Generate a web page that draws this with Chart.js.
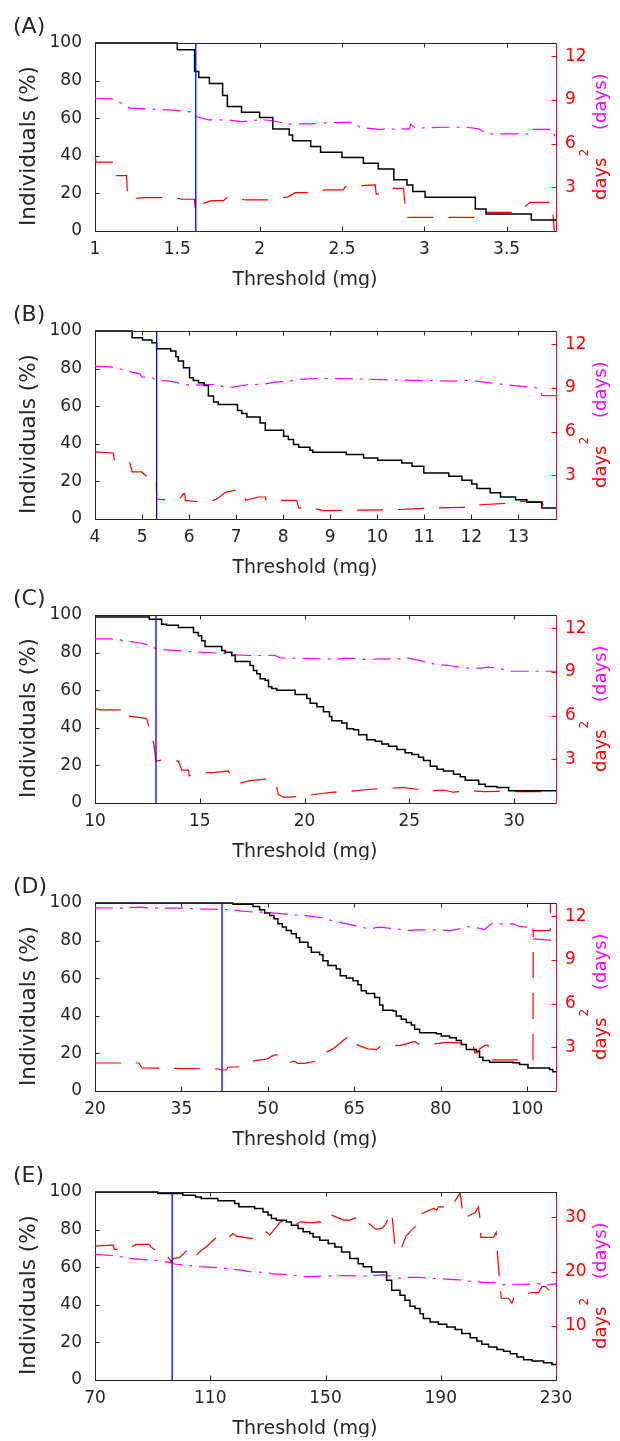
<!DOCTYPE html>
<html>
<head>
<meta charset="utf-8">
<script src="https://cdn.jsdelivr.net/npm/chart.js@4.4.1/dist/chart.umd.min.js"></script>
<style>
  html, body { margin: 0; padding: 0; background: #fff; }
  #wrap { position: relative; width: 620px; height: 1441px; }
  #wrap canvas { position: absolute; left: 0; }
</style>
</head>
<body>
<div id="wrap">
  <canvas id="pA" width="620" height="288" style="top:0px"></canvas>
  <canvas id="pB" width="620" height="288" style="top:288px"></canvas>
  <canvas id="pC" width="620" height="288" style="top:572px"></canvas>
  <canvas id="pD" width="620" height="288" style="top:860px"></canvas>
  <canvas id="pE" width="620" height="288" style="top:1149px"></canvas>
</div>
<script>
// ---- shared axis ticks ----
const pctTicks = [0, 20, 40, 60, 80, 100];
const daysTicks = [3, 6, 9, 12];
const daysTicksE = [10, 20, 30];

// ---- panel A ----
const A_xTicks = [1, 1.5, 2, 2.5, 3, 3.5];
const A_xLabels = ['1', '1.5', '2', '2.5', '3', '3.5'];
const A_cut = 1.612;
const A_indX = [1.0, 1.50, 1.605, 1.63, 1.695, 1.775, 1.804, 1.89, 2.0, 2.08, 2.18, 2.20, 2.31, 2.37, 2.50, 2.63, 2.72, 2.815, 2.895, 2.93, 3.005, 3.31, 3.375, 3.65, 3.8];
const A_indPct = [100, 96.4, 84.9, 81.7, 78.5, 72.1, 66.2, 63.2, 60.4, 54.3, 51.1, 48.0, 44.9, 41.9, 39.1, 36.1, 33.0, 27.2, 24.5, 21.0, 17.9, 11.7, 9.1, 5.9, 5.9];
const A_varX = [1.000, 1.006, 1.111, 1.122, 1.192, 1.197, 1.209, 1.294, 1.486, 1.527, 1.604, 1.610, 1.658, 1.709, 1.780, 1.804, 1.861, 1.912, 2.074, 2.175, 2.216, 2.307, 2.398, 2.509, 2.520, 2.702, 2.708, 2.732, 2.803, 2.874, 2.890, 3.300, 3.310, 3.563, 3.644, 3.776, 3.790];
const A_var = [5.34, 4.72, 4.72, 3.80, 3.80, 2.59, 2.20, 2.29, 2.29, 2.18, 2.18, 1.33, 1.90, 2.08, 2.08, 2.31, 2.29, 2.13, 2.13, 2.36, 2.63, 2.63, 2.82, 2.82, 3.05, 3.16, 2.52, 2.59, 2.93, 2.93, 0.94, 0.94, 1.28, 1.28, 1.97, 1.97, 0];
const A_meanX = [1.000, 1.101, 1.162, 1.213, 1.355, 1.456, 1.557, 1.602, 1.614, 1.689, 1.800, 1.891, 2.013, 2.074, 2.165, 2.307, 2.449, 2.570, 2.611, 2.722, 2.884, 2.910, 2.919, 2.945, 3.117, 3.259, 3.330, 3.387, 3.640, 3.654, 3.782, 3.796];
const A_mean = [9.11, 9.07, 8.77, 8.43, 8.36, 8.31, 8.20, 8.15, 7.85, 7.63, 7.63, 7.51, 7.63, 7.58, 7.35, 7.35, 7.44, 7.47, 7.10, 6.98, 7.01, 7.01, 7.33, 7.05, 7.12, 7.12, 7.01, 6.66, 6.66, 6.98, 6.98, 6.25];

// ---- panel B ----
const B_xTicks = [4, 5, 6, 7, 8, 9, 10, 11, 12, 13];
const B_xLabels = ['4', '5', '6', '7', '8', '9', '10', '11', '12', '13'];
const B_cut = 5.31;
const B_indX = [4.0, 4.79, 5.01, 5.21, 5.31, 5.61, 5.72, 5.77, 5.88, 6.01, 6.09, 6.20, 6.32, 6.41, 6.52, 6.62, 7.03, 7.12, 7.23, 7.51, 7.62, 8.01, 8.11, 8.22, 8.33, 8.57, 8.63, 9.34, 9.71, 10.01, 10.52, 10.74, 10.99, 11.52, 11.80, 12.01, 12.12, 12.40, 12.62, 12.94, 13.18, 13.50, 13.8];
const B_indPct = [100, 96.4, 95.2, 93.8, 90.6, 89.3, 86.3, 84.0, 80.5, 75.1, 73.7, 72.5, 71.0, 65.4, 62.2, 60.9, 57.7, 56.1, 54.3, 51.1, 47.2, 44.0, 42.3, 39.6, 38.2, 36.6, 35.5, 34.3, 32.5, 31.3, 29.8, 28.1, 24.5, 22.7, 20.6, 18.6, 16.2, 13.9, 11.7, 10.3, 8.9, 5.9, 5.9];
const B_varX = [4.00, 4.39, 4.41, 4.66, 4.74, 4.79, 4.99, 5.10, 5.30, 5.31, 5.60, 5.74, 5.82, 5.88, 5.91, 5.92, 6.22, 6.48, 6.62, 6.77, 6.87, 7.05, 7.16, 7.20, 7.48, 7.62, 7.64, 8.29, 8.33, 8.61, 8.86, 9.50, 10.35, 11.27, 11.77, 12.09, 12.19, 12.90, 12.97, 13.50, 13.52, 13.80];
const B_var = [4.60, 4.53, 4.08, 3.85, 3.89, 3.23, 3.23, 2.93, 2.93, 1.37, 1.28, 1.44, 1.47, 1.74, 1.74, 1.28, 1.17, 1.21, 1.44, 1.83, 1.90, 2.02, 1.85, 1.28, 1.51, 1.51, 1.28, 1.28, 0.76, 0.76, 0.57, 0.60, 0.64, 0.76, 0.80, 0.80, 0.98, 1.10, 1.21, 1.19, 0.98, 0.98];
const B_meanX = [4.00, 4.39, 4.57, 4.78, 4.96, 4.99, 5.21, 5.30, 5.60, 5.70, 5.91, 6.09, 6.23, 6.62, 6.73, 6.94, 7.23, 7.58, 7.83, 8.15, 8.33, 8.72, 9.21, 10.06, 10.91, 11.66, 11.80, 12.12, 12.40, 12.69, 13.18, 13.43, 13.50, 13.80];
const B_mean = [10.49, 10.42, 10.26, 10.08, 9.96, 9.75, 9.71, 9.53, 9.46, 9.39, 9.23, 9.18, 9.21, 9.23, 9.07, 9.05, 9.21, 9.25, 9.39, 9.46, 9.57, 9.64, 9.64, 9.57, 9.50, 9.46, 9.53, 9.46, 9.34, 9.23, 9.07, 8.98, 8.47, 8.47];

// ---- panel C ----
const C_xTicks = [10, 15, 20, 25, 30];
const C_xLabels = ['10', '15', '20', '25', '30'];
const C_cut = 12.91;
const C_indX = [10, 12.59, 13.18, 13.42, 13.98, 14.70, 14.93, 15.09, 15.25, 16.05, 16.21, 16.53, 16.69, 17.40, 17.56, 17.72, 17.88, 18.12, 18.28, 18.44, 18.68, 19.55, 20.11, 20.27, 20.59, 20.90, 21.19, 21.30, 21.78, 22.02, 22.34, 22.58, 22.97, 23.37, 23.69, 24.01, 24.41, 24.80, 25.12, 25.44, 25.68, 26.00, 26.32, 26.63, 27.11, 27.43, 27.67, 28.31, 28.62, 29.18, 29.74, 32];
const C_indPct = [98.9, 97.7, 95.1, 94.6, 93.3, 90.7, 88.9, 86.3, 83.3, 81.1, 80.2, 78.4, 75.3, 73.2, 70.5, 68.8, 66.1, 65.3, 61.8, 60.9, 60.0, 57.7, 55.6, 53.0, 51.2, 48.6, 46.0, 43.7, 42.5, 39.5, 38.9, 36.3, 33.7, 32.8, 31.4, 30.2, 28.4, 26.7, 25.8, 24.4, 22.6, 19.6, 17.9, 17.0, 15.3, 13.9, 12.1, 10.0, 8.8, 8.2, 6.5, 6.5];
const C_varX = [10.00, 10.24, 11.19, 11.30, 11.40, 11.75, 12.31, 12.47, 12.59, 12.62, 12.80, 12.91, 13.18, 13.98, 14.14, 14.46, 14.50, 15.01, 15.65, 16.37, 16.45, 16.92, 17.40, 18.12, 18.40, 18.64, 18.75, 18.99, 19.31, 20.11, 20.90, 21.38, 22.10, 23.29, 24.17, 24.64, 25.28, 26.08, 26.63, 27.11, 27.91, 28.55, 29.18, 29.90, 32.00];
const C_var = [6.50, 6.39, 6.39, 6.50, 5.94, 5.94, 5.83, 5.79, 5.15, 4.80, 4.13, 2.88, 2.95, 2.88, 2.25, 2.25, 1.87, 2.09, 2.09, 2.21, 1.87, 1.37, 1.53, 1.64, 1.64, 1.35, 0.58, 0.40, 0.40, 0.51, 0.67, 0.74, 0.80, 0.96, 1.01, 1.07, 0.96, 0.85, 0.89, 0.74, 0.85, 0.78, 0.80, 0.78, 0.78];
const C_meanX = [10, 11.03, 11.43, 11.99, 12.55, 12.87, 13.26, 13.90, 14.86, 15.57, 16.45, 16.77, 17.32, 18.60, 18.83, 19.31, 21.06, 21.46, 22.02, 22.97, 23.77, 24.80, 24.88, 25.84, 26.32, 26.79, 27.75, 28.47, 28.78, 29.34, 29.74, 32];
const C_mean = [11.26, 11.26, 11.10, 11.03, 10.85, 10.62, 10.53, 10.46, 10.35, 10.31, 10.24, 10.17, 10.12, 10.12, 9.96, 9.94, 9.89, 9.85, 9.94, 9.85, 9.89, 9.89, 9.96, 9.67, 9.49, 9.45, 9.26, 9.26, 9.33, 9.22, 9.04, 9.04];

// ---- panel D ----
const D_xTicks = [20, 35, 50, 65, 80, 95];
const D_xLabels = ['20', '35', '50', '65', '80', '100'];
const D_cut = 42.04;
const D_indX = [20, 43.94, 47.41, 48.57, 49.44, 50.31, 51.06, 51.75, 52.50, 53.20, 54.07, 54.93, 55.51, 56.96, 57.54, 58.98, 59.56, 60.43, 61.87, 62.57, 63.61, 64.77, 65.63, 66.21, 67.08, 68.53, 69.39, 69.97, 71.71, 72.28, 73.15, 74.02, 74.89, 75.47, 76.33, 79.23, 80.09, 81.54, 82.70, 83.56, 84.43, 86.16, 86.74, 87.32, 88.48, 92.53, 93.68, 95.13, 98.89, 99.46, 100];
const D_indPct = [100, 99.3, 98.2, 96.4, 94.7, 93.4, 91.6, 88.9, 87.2, 85.4, 83.6, 81.5, 79.1, 76.5, 73.8, 72.5, 69.3, 66.7, 64.9, 61.3, 60.1, 58.6, 56.5, 53.3, 51.9, 49.7, 45.8, 43.0, 42.6, 39.9, 38.1, 36.4, 35.1, 32.8, 31.0, 30.5, 29.2, 28.3, 26.9, 24.8, 22.1, 21.2, 18.0, 16.2, 15.3, 15.0, 14.1, 12.3, 11.4, 10.2, 10.2];
const D_varX = [20, 27.63, 28.15, 41.52, 41.92, 42.79, 43.08, 45.39, 47.70, 50.02, 50.60, 51.46, 53.00, 53.66, 54.64, 55.22, 56.38, 58.69, 59.27, 59.56, 60.43, 61.30, 63.15, 63.90, 64.77, 65.06, 67.37, 68.81, 69.68, 70.43, 72.86, 74.60, 75.47, 76.04, 78.94, 80.96, 83.27, 85.59, 85.88, 86.45, 86.74, 87.61, 88.19, 88.48, 96.00, 96.05, 99.00, 99.06];
const D_var = [1.92, 1.92, 1.58, 1.51, 1.44, 1.44, 1.63, 1.67, 2.08, 2.20, 2.38, 2.50, 2.30, 1.97, 2.04, 1.90, 1.90, 2.08, 2.36, 2.54, 2.72, 2.89, 3.50, 3.69, 3.73, 3.23, 2.89, 2.84, 3.11, 3.16, 3.11, 3.30, 3.41, 3.23, 3.23, 3.34, 3.30, 3.23, 2.61, 2.61, 2.89, 3.11, 3.16, 2.13, 2.13, 11.01, 11.01, 14];
const D_meanX = [20, 24.86, 27.63, 29.77, 34.98, 37.58, 41.05, 43.94, 45.68, 47.70, 49.44, 52.62, 53.78, 56.67, 59.56, 61.01, 63.03, 65.92, 67.37, 69.39, 72.28, 74.31, 76.04, 79.51, 81.54, 83.27, 84.43, 86.16, 87.61, 88.77, 92.53, 93.68, 95.13, 96.00, 96.11, 98.31, 99.18, 99.50];
const D_mean = [12.57, 12.55, 12.62, 12.55, 12.55, 12.50, 12.46, 12.43, 12.34, 12.27, 12.27, 12.16, 12.11, 12.04, 11.88, 11.70, 11.52, 11.29, 11.13, 11.24, 11.13, 11.01, 11.06, 11.06, 11.01, 11.13, 11.29, 11.20, 11.08, 11.47, 11.47, 11.29, 11.24, 11.24, 10.44, 10.37, 10.33, 10.21];

// ---- panel E ----
const E_xTicks = [70, 110, 150, 190, 230];
const E_xLabels = ['70', '110', '150', '190', '230'];
const E_cut = 96.78;
const E_indX = [70, 91.80, 100.49, 104.90, 106.87, 112.67, 118.46, 119.97, 125.42, 128.32, 130.06, 131.22, 132.96, 136.43, 138.17, 140.49, 142.23, 144.55, 145.71, 148.03, 150.93, 153.25, 155.57, 158.46, 161.36, 163.10, 166.00, 171.22, 172.96, 175.86, 177.59, 179.33, 181.07, 182.81, 183.97, 186.29, 189.19, 192.09, 194.99, 197.30, 200.20, 202.52, 204.26, 206.58, 209.48, 211.80, 214.12, 216.43, 218.75, 221.65, 225.71, 228.61, 230];
const E_indPct = [100, 99.2, 98.3, 97.4, 96.5, 95.3, 93.9, 92.1, 91.2, 89.4, 87.7, 85.9, 85.0, 84.1, 82.3, 80.6, 78.8, 77.9, 76.1, 74.4, 72.6, 70.8, 68.1, 64.6, 61.9, 60.2, 57.5, 53.1, 47.7, 45.1, 42.4, 39.2, 38.0, 35.3, 32.7, 30.9, 29.6, 28.2, 26.8, 24.7, 22.5, 20.8, 19.0, 17.6, 16.2, 15.3, 14.0, 12.2, 10.8, 10.1, 9.2, 8.2, 8.2];
const E_varX = [70, 75.57, 76.38, 76.72, 77.88, 80.00, 82.52, 84.26, 88.90, 89.25, 93.30, 95.28, 96.43, 97.25, 99.33, 102.58, 103.97, 104.90, 106.29, 108.61, 112.67, 113.25, 115.80, 116.72, 117.88, 119.04, 124.03, 127.16, 128.90, 129.48, 130.64, 134.35, 136.43, 138.17, 139.33, 141.30, 145.48, 147.45, 149.19, 150.35, 151.28, 156.38, 158.46, 160.78, 162.52, 163.68, 167.51, 169.48, 170.64, 172.38, 172.96, 173.54, 174.12, 174.70, 175.86, 177.94, 179.91, 181.65, 182.23, 187.45, 188.61, 189.19, 190.93, 192.67, 193.48, 196.72, 197.88, 200.78, 201.94, 203.10, 203.68, 203.91, 208.32, 209.25, 209.71, 210.41, 211.00, 213.54, 214.70, 215.28, 221.30, 223.97, 225.13, 226.29, 227.45, 228.03, 230];
const E_var = [24.72, 24.91, 24.91, 24.11, 24.11, 24.11, 24.48, 25.03, 25.03, 24.60, 23.07, 22.76, 21.84, 22.45, 22.58, 24.29, 23.87, 22.88, 23.68, 24.60, 26.56, 26.75, 26.75, 26.44, 27.06, 26.56, 26.13, 26.13, 27.06, 27.36, 26.75, 29.20, 29.51, 29.20, 28.59, 29.20, 29.02, 29.20, 29.02, 30.12, 30.61, 29.51, 29.51, 30.00, 30.12, 29.51, 27.79, 27.98, 28.59, 30.43, 31.04, 27.98, 24.60, 23.99, 23.68, 26.56, 27.67, 28.59, 30.43, 31.66, 31.35, 31.96, 31.96, 32.27, 31.84, 34.54, 29.82, 30.61, 30.91, 31.96, 29.51, 26.32, 26.32, 27.24, 23.07, 18.47, 15.09, 15.09, 14.17, 15.09, 16.13, 16.13, 17.24, 17.24, 16.63, 16.32, 16.30];
const E_meanX = [70, 77.30, 81.94, 88.90, 92.96, 96.43, 97.59, 102.81, 106.29, 110.93, 117.30, 120.20, 123.68, 129.48, 131.80, 135.28, 141.07, 143.39, 150.35, 156.14, 164.26, 170.06, 172.38, 176.43, 178.75, 182.23, 186.29, 193.25, 196.72, 199.04, 206.00, 208.32, 211.22, 215.28, 223.97, 227.45, 230];
const E_mean = [23.19, 22.94, 22.45, 22.15, 21.96, 21.66, 21.41, 21.10, 20.92, 20.80, 20.49, 20.31, 20.00, 19.82, 19.57, 19.51, 19.20, 19.08, 19.20, 19.26, 19.20, 19.39, 19.20, 18.71, 18.96, 18.96, 18.77, 18.59, 18.47, 18.28, 17.98, 17.98, 17.55, 17.67, 17.73, 17.55, 17.73];

const panels = [
  { id: 'pA', label: '(A)', xMin: 1, xMax: 3.8, xTicks: A_xTicks, xLabels: A_xLabels, rMax: 12.9, rTicks: daysTicks, cut: A_cut, indX: A_indX, ind: A_indPct, varX: A_varX, vari: A_var, meanX: A_meanX, mean: A_mean },
  { id: 'pB', label: '(B)', xMin: 4, xMax: 13.8, xTicks: B_xTicks, xLabels: B_xLabels, rMax: 12.9, rTicks: daysTicks, cut: B_cut, indX: B_indX, ind: B_indPct, varX: B_varX, vari: B_var, meanX: B_meanX, mean: B_mean },
  { id: 'pC', label: '(C)', xMin: 10, xMax: 32, xTicks: C_xTicks, xLabels: C_xLabels, rMax: 12.9, rTicks: daysTicks, cut: C_cut, indX: C_indX, ind: C_indPct, varX: C_varX, vari: C_var, meanX: C_meanX, mean: C_mean },
  { id: 'pD', label: '(D)', xMin: 20, xMax: 100, xTicks: D_xTicks, xLabels: D_xLabels, rMax: 12.9, rTicks: daysTicks, cut: D_cut, indX: D_indX, ind: D_indPct, varX: D_varX, vari: D_var, meanX: D_meanX, mean: D_mean },
  { id: 'pE', label: '(E)', xMin: 70, xMax: 230, xTicks: E_xTicks, xLabels: E_xLabels, rMax: 34.7, rTicks: daysTicksE, cut: E_cut, indX: E_indX, ind: E_indPct, varX: E_varX, vari: E_var, meanX: E_meanX, mean: E_mean },
];

const INK = '#262626';
const RED = '#ff0000';
const MAGENTA = '#ff00ff';
const FONT = '"DejaVu Sans", sans-serif';
Chart.defaults.font.family = FONT;

const pts = (xs, ys) => xs.map((x, i) => ({ x: x, y: ys[i] }));

// top frame line + inward tick marks (matlab style)
const frameTicks = {
  id: 'frameTicks',
  afterDraw(chart) {
    const { ctx, chartArea: a, scales } = chart;
    const len = 4.5;
    ctx.save();
    ctx.lineWidth = 1;
    ctx.strokeStyle = INK;
    ctx.beginPath();
    const top = Math.round(a.top) + 0.5;
    ctx.moveTo(a.left, top);
    ctx.lineTo(a.right, top);
    scales.x.ticks.forEach(t => {
      const px = Math.round(scales.x.getPixelForValue(t.value)) + 0.5;
      ctx.moveTo(px, a.bottom);
      ctx.lineTo(px, a.bottom - len);
      ctx.moveTo(px, a.top);
      ctx.lineTo(px, a.top + len);
    });
    scales.y.ticks.forEach(t => {
      const py = Math.round(scales.y.getPixelForValue(t.value)) + 0.5;
      ctx.moveTo(a.left, py);
      ctx.lineTo(a.left + len, py);
    });
    ctx.stroke();
    ctx.strokeStyle = RED;
    ctx.beginPath();
    scales.y2.ticks.forEach(t => {
      const py = Math.round(scales.y2.getPixelForValue(t.value)) + 0.5;
      ctx.moveTo(a.right, py);
      ctx.lineTo(a.right - len, py);
    });
    ctx.stroke();
    ctx.restore();
  }
};

// panel letter and axis titles
const panelText = {
  id: 'panelText',
  afterDraw(chart, args, opts) {
    const ctx = chart.ctx;
    ctx.save();
    ctx.textBaseline = 'alphabetic';
    ctx.fillStyle = INK;
    ctx.font = '22px ' + FONT;
    ctx.textAlign = 'left';
    ctx.fillText(opts.label, 13, 33);

    ctx.font = '19px ' + FONT;
    ctx.textAlign = 'center';
    ctx.fillText('Threshold (mg)', 305, 285);

    ctx.save();
    ctx.translate(35, 146);
    ctx.rotate(-Math.PI / 2);
    ctx.font = '21.5px ' + FONT;
    ctx.fillText('Individuals (%)', 0, 0);
    ctx.restore();

    // right: days^2 (days)
    ctx.save();
    ctx.translate(605.5, 200);
    ctx.rotate(-Math.PI / 2);
    ctx.textAlign = 'left';
    ctx.font = '18px ' + FONT;
    ctx.fillStyle = RED;
    ctx.fillText('days', 0, 0);
    const w = ctx.measureText('days').width;
    ctx.font = '12px ' + FONT;
    ctx.fillText('2', w + 1, -17.5);
    ctx.font = '18px ' + FONT;
    ctx.fillStyle = MAGENTA;
    ctx.fillText('(days)', 70, 0);
    ctx.restore();
    ctx.restore();
  }
};

panels.forEach(p => {
  new Chart(document.getElementById(p.id), {
    type: 'line',
    data: {
      datasets: [
        { data: [{ x: p.cut, y: 0 }, { x: p.cut, y: 99.5 }], borderColor: '#0000ff', borderWidth: 1.3, yAxisID: 'y' },
        { data: pts(p.indX, p.ind), stepped: 'before', borderColor: '#000000', borderWidth: 1.5, clip: 3, yAxisID: 'y' },
        { data: pts(p.varX, p.vari), borderColor: RED, borderWidth: 1.2, borderDash: [26, 15], yAxisID: 'y2' },
        { data: pts(p.meanX, p.mean), borderColor: MAGENTA, borderWidth: 1.2, borderDash: [18, 7, 3, 7], yAxisID: 'y2' },
      ]
    },
    options: {
      responsive: false,
      animation: false,
      events: [],
      layout: { padding: { top: 43, left: 0, right: 0, bottom: 0 } },
      elements: { point: { radius: 0 }, line: { tension: 0, fill: false } },
      plugins: {
        legend: { display: false },
        tooltip: { enabled: false },
        panelText: { label: p.label },
      },
      scales: {
        x: {
          type: 'linear', min: p.xMin, max: p.xMax,
          grid: { display: false, drawTicks: false },
          border: { color: INK, width: 1 },
          ticks: {
            color: INK, font: { size: 17 }, padding: 8, maxRotation: 0, autoSkip: false,
            callback: (v, i) => p.xLabels[i],
          },
          afterBuildTicks: s => { s.ticks = p.xTicks.map(v => ({ value: v })); },
          afterFit: s => { s.height = 57; },
        },
        y: {
          position: 'left', min: 0, max: 100,
          grid: { display: false, drawTicks: false },
          border: { color: INK, width: 1 },
          ticks: { color: INK, font: { size: 17 }, padding: 13 },
          afterBuildTicks: s => { s.ticks = pctTicks.map(v => ({ value: v })); },
          afterFit: s => { s.width = 95; },
        },
        y2: {
          position: 'right', min: 0, max: p.rMax,
          grid: { display: false, drawTicks: false },
          border: { color: RED, width: 1 },
          ticks: { color: RED, font: { size: 17 }, padding: 9 },
          afterBuildTicks: s => { s.ticks = p.rTicks.map(v => ({ value: v })); },
          afterFit: s => { s.width = 64; },
        },
      },
    },
    plugins: [frameTicks, panelText],
  });
});
</script>
</body>
</html>
